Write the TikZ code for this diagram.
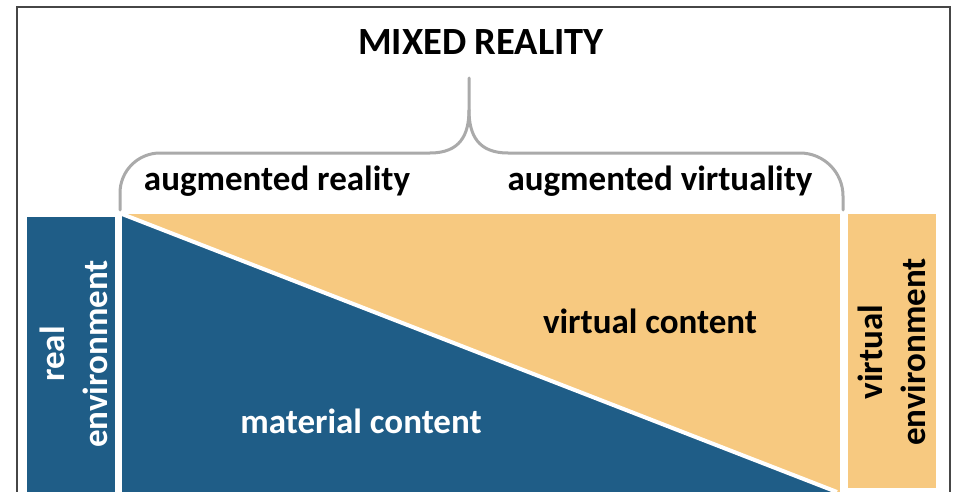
\documentclass[tikz,border=0pt]{standalone}
\usepackage{fontspec}
\setmainfont{Carlito}
\definecolor{mrblue}{RGB}{31,93,135}
\definecolor{mrtan}{RGB}{247,201,128}
\definecolor{mrgray}{RGB}{170,170,170}
\definecolor{mrframe}{RGB}{70,70,70}
\begin{document}
\begin{tikzpicture}[x=1pt,y=-1pt,
  lbl/.style={font=\fontsize{35}{40}\selectfont\bfseries, inner sep=0pt, anchor=base},
  vlbl/.style={font=\fontsize{35}{42.5}\selectfont\bfseries, inner sep=0pt, rotate=90, align=center},
  bracepath/.style={draw=mrgray, line width=3pt, line cap=round}]
\useasboundingbox (0,0) rectangle (955,492);
\fill[white] (0,0) rectangle (955,492);
% frame
\draw[mrframe, line width=1.2pt] (17,492) -- (17,7) -- (950,7) -- (950,492);
% real environment box
\fill[mrblue] (27,217) rectangle (115,492);
% main rectangle
\fill[mrtan] (122,214) rectangle (840,492);
\fill[mrblue] (122,214) -- (122,492) -- (837,492) -- cycle;
\draw[white, line width=4pt] (122,214) -- (837,492);
% virtual environment box
\fill[mrtan] (848,214) rectangle (936,488);
% brace
\draw[bracepath] (120,210) -- (120,193) arc[start angle=180, end angle=270, radius=40] -- (430,153)
  .. controls (460,153) and (469,135) .. (469,110) -- (469,78);
\draw[bracepath] (469,110) .. controls (469,135) and (478,153) .. (508,153) -- (800,153)
  arc[start angle=270, end angle=360, radius=43] -- (843,210);
% texts
\node[font=\fontsize{38.5}{42}\selectfont\bfseries, inner sep=0pt, anchor=base] (title) at (481,55) {MIXED REALITY};
\node[lbl] (ar) at (277,190) {augmented reality};
\node[lbl] (av) at (660,190) {augmented virtuality};
\node[lbl] (vc) at (650,333) {virtual content};
\node[lbl, text=white] (mc) at (361,433) {material content};
\node[vlbl, text=white] (re) at (74,354) {real\\environment};
\node[vlbl] (ve) at (892,352) {virtual\\environment};
\end{tikzpicture}
\end{document}
